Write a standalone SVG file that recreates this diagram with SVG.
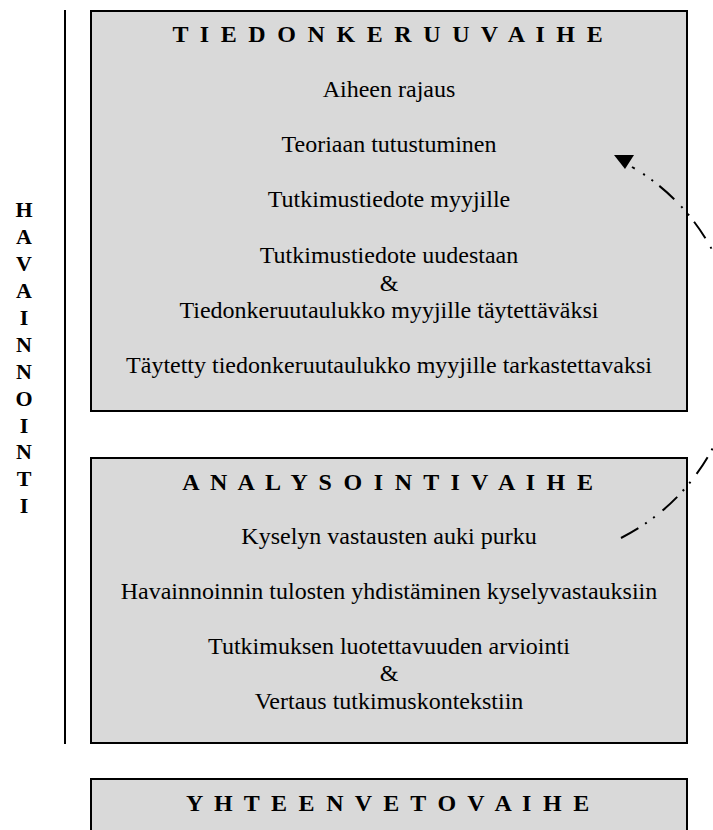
<svg xmlns="http://www.w3.org/2000/svg" width="713" height="830" viewBox="0 0 713 830">
<style>
.box{fill:#d9d9d9;stroke:#000;stroke-width:2}
.t{font-family:"Liberation Serif","Times New Roman",serif;font-size:24px;fill:#000;text-anchor:middle}
.h{font-weight:bold;letter-spacing:2.8px}
.v{font-family:"Liberation Serif","Times New Roman",serif;font-size:22px;font-weight:bold;fill:#000;text-anchor:middle}
.conn{fill:none;stroke:#000;stroke-width:2;stroke-dasharray:20 8 2 8 2 10}
</style>
<rect width="713" height="830" fill="#fff"/>
<g id="havainnointi">
<line x1="65" y1="10" x2="65" y2="744" stroke="#000" stroke-width="2"/>
<text class="v" x="24" y="217.3">H</text>
<text class="v" x="24" y="244.2">A</text>
<text class="v" x="24" y="271.1">V</text>
<text class="v" x="24" y="298">A</text>
<text class="v" x="24" y="324.9">I</text>
<text class="v" x="24" y="351.8">N</text>
<text class="v" x="24" y="378.7">N</text>
<text class="v" x="24" y="405.6">O</text>
<text class="v" x="24" y="432.5">I</text>
<text class="v" x="24" y="459.4">N</text>
<text class="v" x="24" y="486.3">T</text>
<text class="v" x="24" y="513.2">I</text>
</g>
<g id="tiedonkeruuvaihe">
<rect class="box" x="91" y="11" width="596" height="400"/>
<text class="t h" x="389" y="42">T I E D O N K E R U U V A I H E</text>
<text class="t" x="389" y="97">Aiheen rajaus</text>
<text class="t" x="389" y="152">Teoriaan tutustuminen</text>
<text class="t" x="389" y="207">Tutkimustiedote myyjille</text>
<text class="t" x="389" y="263">Tutkimustiedote uudestaan</text>
<text class="t" x="389" y="290.5">&amp;</text>
<text class="t" x="389" y="318">Tiedonkeruutaulukko myyjille täytettäväksi</text>
<text class="t" x="389" y="373">Täytetty tiedonkeruutaulukko myyjille tarkastettavaksi</text>
</g>
<g id="analysointivaihe">
<rect class="box" x="91" y="458" width="596" height="285"/>
<text class="t h" x="389" y="489.5">A N A L Y S O I N T I V A I H E</text>
<text class="t" x="389" y="543.5">Kyselyn vastausten auki purku</text>
<text class="t" x="389" y="598.5">Havainnoinnin tulosten yhdistäminen kyselyvastauksiin</text>
<text class="t" x="389" y="653.5">Tutkimuksen luotettavuuden arviointi</text>
<text class="t" x="389" y="681">&amp;</text>
<text class="t" x="389" y="708.5">Vertaus tutkimuskontekstiin</text>
</g>
<g id="yhteenvetovaihe">
<rect class="box" x="91" y="779" width="596" height="100"/>
<text class="t h" x="389" y="810.5">Y H T E E N V E T O V A I H E</text>
</g>
<g id="connectors">
<path class="conn" d="M621,538 A211,211 0 0 0 632,167"/>
<polygon points="614,155 634,155 625,169" fill="#000"/>
</g>
</svg>
